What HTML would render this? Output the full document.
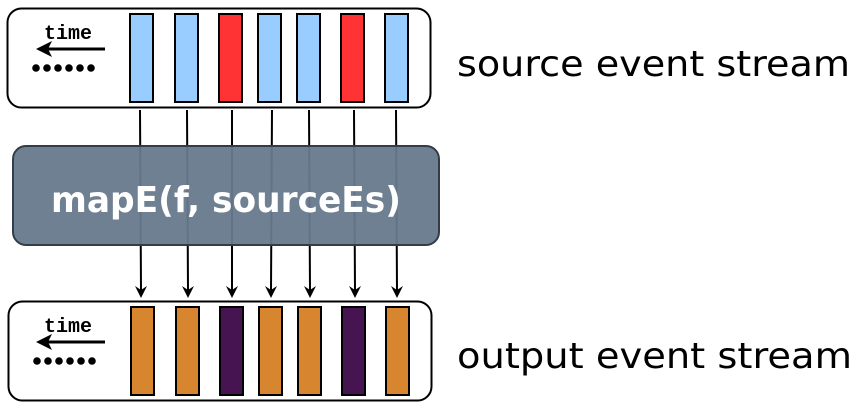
<!DOCTYPE html>
<html><head><style>
body{margin:0;background:#fff;width:860px;height:408px;overflow:hidden}
</style></head><body>
<svg width="860" height="408" xmlns="http://www.w3.org/2000/svg">
<rect x="7.5" y="8.5" width="423" height="99" rx="14" fill="#fff" stroke="#000" stroke-width="2"/>
<rect x="8.5" y="301.5" width="423" height="99" rx="14" fill="#fff" stroke="#000" stroke-width="2"/>
<g stroke="#000" stroke-width="2">
<rect x="130" y="14" width="23" height="88" fill="#99ccff"/>
<rect x="175" y="14" width="23" height="88" fill="#99ccff"/>
<rect x="219" y="14" width="23" height="88" fill="#ff3333"/>
<rect x="258" y="14" width="23" height="88" fill="#99ccff"/>
<rect x="297" y="14" width="23" height="88" fill="#99ccff"/>
<rect x="341" y="14" width="23" height="88" fill="#ff3333"/>
<rect x="385" y="14" width="23" height="88" fill="#99ccff"/>
<rect x="131" y="307" width="23" height="88" fill="#d8852f"/>
<rect x="176" y="307" width="23" height="88" fill="#d8852f"/>
<rect x="220" y="307" width="23" height="88" fill="#461450"/>
<rect x="259" y="307" width="23" height="88" fill="#d8852f"/>
<rect x="298" y="307" width="23" height="88" fill="#d8852f"/>
<rect x="342" y="307" width="23" height="88" fill="#461450"/>
<rect x="386" y="307" width="23" height="88" fill="#d8852f"/>
</g>
<g stroke="#000" stroke-width="2">
<line x1="140" y1="110" x2="141" y2="290"/>
<line x1="187" y1="110" x2="188" y2="290"/>
<line x1="232" y1="110" x2="232" y2="290"/>
<line x1="272" y1="110" x2="271" y2="290"/>
<line x1="309" y1="110" x2="310" y2="290"/>
<line x1="354" y1="110" x2="355" y2="290"/>
<line x1="396" y1="110" x2="397" y2="290"/>
</g>
<g fill="#000">
<path d="M135,286 L141,298 L147,286 L141,290 Z"/>
<path d="M182,286 L188,298 L194,286 L188,290 Z"/>
<path d="M226,286 L232,298 L238,286 L232,290 Z"/>
<path d="M265,286 L271,298 L277,286 L271,290 Z"/>
<path d="M304,286 L310,298 L316,286 L310,290 Z"/>
<path d="M349,286 L355,298 L361,286 L355,290 Z"/>
<path d="M391,286 L397,298 L403,286 L397,290 Z"/>
</g>
<rect x="13" y="146" width="426" height="99" rx="13" fill="#66798c" fill-opacity="0.95" stroke="#333d48" stroke-width="2"/>
<text x="226" y="212" text-anchor="middle" font-family="DejaVu Sans, sans-serif" font-weight="bold" font-size="36" fill="#fff" textLength="350" lengthAdjust="spacingAndGlyphs">mapE(f, sourceEs)</text>
<g font-family="Liberation Mono, monospace" font-weight="bold" font-size="20">
<text x="44" y="39">time</text><text x="44" y="332">time</text>
</g>
<g stroke="#000" stroke-width="3"><line x1="46" y1="49" x2="105" y2="49"/><line x1="46" y1="342" x2="105" y2="342"/></g>
<path d="M36,49 L52,41 L48,49 L52,57 Z M36,342 L52,334 L48,342 L52,350 Z" fill="#000"/>
<g fill="#000">
<circle cx="36" cy="68" r="3.8"/><circle cx="47" cy="68" r="3.8"/><circle cx="58" cy="68" r="3.8"/><circle cx="69" cy="68" r="3.8"/><circle cx="80" cy="68" r="3.8"/><circle cx="91" cy="68" r="3.8"/>
<circle cx="37" cy="361" r="3.8"/><circle cx="48" cy="361" r="3.8"/><circle cx="59" cy="361" r="3.8"/><circle cx="70" cy="361" r="3.8"/><circle cx="81" cy="361" r="3.8"/><circle cx="92" cy="361" r="3.8"/>
</g>
<g font-family="DejaVu Sans, sans-serif" font-size="36" fill="#000">
<text x="457" y="76" textLength="393" lengthAdjust="spacingAndGlyphs">source event stream</text>
<text x="457" y="368" textLength="395" lengthAdjust="spacingAndGlyphs">output event stream</text>
</g>
</svg>
</body></html>
